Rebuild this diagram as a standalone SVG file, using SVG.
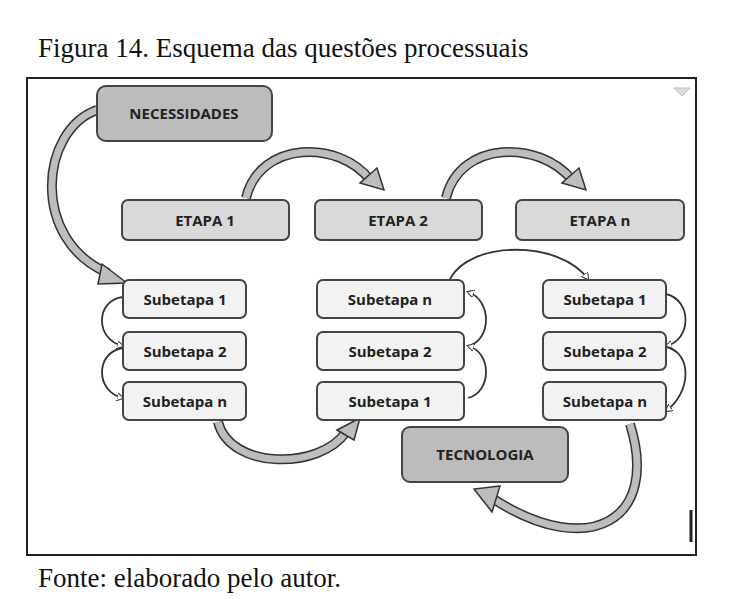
<svg xmlns="http://www.w3.org/2000/svg" width="750" height="599" viewBox="0 0 750 599">
<style>
.t{font-family:"Liberation Serif",serif;font-size:27px;fill:#111}
.n{stroke:#444;stroke-width:2}
.dk{fill:#bcbcbc}.md{fill:#d9d9d9}.lt{fill:#f2f2f2}
.l{font-family:"Open Sans","Liberation Sans",sans-serif;font-weight:bold;font-size:15px;fill:#222;text-anchor:middle}
.bo{fill:none;stroke:#333;stroke-width:10}
.bi{fill:none;stroke:#bdbdbd;stroke-width:7}
.h{fill:#bdbdbd;stroke:#333;stroke-width:1.5}
.th{fill:none;stroke:#333;stroke-width:1.8;marker-end:url(#a)}
</style>
<defs><marker id="a" markerWidth="8" markerHeight="8" refX="6" refY="4" orient="auto" markerUnits="userSpaceOnUse"><path d="M0,0 L7,4 L0,8 Z" fill="#fff" stroke="#333"/></marker></defs>
<rect width="750" height="599" fill="#fff"/>
<text class="t" x="38" y="57">Figura 14. Esquema das questões processuais</text>
<rect x="27" y="78" width="669" height="477" fill="#fff" stroke="#222" stroke-width="2"/>
<path d="M674 88 h16 l-8 8 z" fill="#ddd" stroke="#bbb"/>
<line x1="691" y1="510" x2="691" y2="542" stroke="#222" stroke-width="3"/>
<g id="connectors">
<path class="bo" d="M97 110 C40 130 30 240 108 273"/><path class="bi" d="M97 110 C40 130 30 240 108 273"/><polygon class="h" points="102,264 127,283 98,284"/>
<path class="bo" d="M246 198 C260 140 340 140 370 180"/><path class="bi" d="M246 198 C260 140 340 140 370 180"/><polygon class="h" points="360,183 384,190 377,168"/>
<path class="bo" d="M446 198 C460 140 540 140 572 180"/><path class="bi" d="M446 198 C460 140 540 140 572 180"/><polygon class="h" points="562,183 586,190 579,168"/>
<path class="bo" d="M218 422 C230 470 320 470 346 432"/><path class="bi" d="M218 422 C230 470 320 470 346 432"/><polygon class="h" points="337,430 360,418 354,440"/>
<path class="bo" d="M630 424 C660 520 590 560 495 500"/><path class="bi" d="M630 424 C660 520 590 560 495 500"/><polygon class="h" points="500,486 474,489 492,512"/>
<path class="th" d="M450 279 C470 240 560 240 588 279"/>
<path class="th" d="M123 297 C95 300 95 340 123 346"/>
<path class="th" d="M123 348 C95 352 95 392 123 398"/>
<path class="th" d="M468 346 C492 340 492 300 468 292"/>
<path class="th" d="M468 398 C492 392 492 352 468 346"/>
<path class="th" d="M666 294 C692 300 692 340 666 346"/>
<path class="th" d="M666 347 C692 352 692 392 666 411"/>
</g>
<g id="necessidades"><rect class="n dk" x="97" y="86" width="175" height="55" rx="9"/><text class="l" x="184" y="119">NECESSIDADES</text></g>
<g id="etapa1"><rect class="n md" x="122" y="200" width="167" height="40" rx="6"/><text class="l" x="205" y="226">ETAPA 1</text></g>
<g id="etapa2"><rect class="n md" x="315" y="200" width="167" height="40" rx="6"/><text class="l" x="398" y="226">ETAPA 2</text></g>
<g id="etapan"><rect class="n md" x="516" y="200" width="168" height="40" rx="6"/><text class="l" x="600" y="226">ETAPA n</text></g>
<g id="l1"><rect class="n lt" x="123" y="280" width="123" height="38" rx="6"/><text class="l" x="185" y="305">Subetapa 1</text></g>
<g id="l2"><rect class="n lt" x="123" y="332" width="123" height="38" rx="6"/><text class="l" x="185" y="357">Subetapa 2</text></g>
<g id="l3"><rect class="n lt" x="123" y="382" width="123" height="38" rx="6"/><text class="l" x="185" y="407">Subetapa n</text></g>
<g id="m1"><rect class="n lt" x="317" y="280" width="147" height="38" rx="6"/><text class="l" x="390" y="305">Subetapa n</text></g>
<g id="m2"><rect class="n lt" x="317" y="332" width="147" height="38" rx="6"/><text class="l" x="390" y="357">Subetapa 2</text></g>
<g id="m3"><rect class="n lt" x="317" y="382" width="147" height="38" rx="6"/><text class="l" x="390" y="407">Subetapa 1</text></g>
<g id="r1"><rect class="n lt" x="543" y="280" width="123" height="38" rx="6"/><text class="l" x="605" y="305">Subetapa 1</text></g>
<g id="r2"><rect class="n lt" x="543" y="332" width="123" height="38" rx="6"/><text class="l" x="605" y="357">Subetapa 2</text></g>
<g id="r3"><rect class="n lt" x="543" y="382" width="123" height="38" rx="6"/><text class="l" x="605" y="407">Subetapa n</text></g>
<g id="tecnologia"><rect class="n dk" x="402" y="427" width="166" height="55" rx="8"/><text class="l" x="485" y="460">TECNOLOGIA</text></g>
<text class="t" x="38" y="587">Fonte: elaborado pelo autor.</text>
</svg>
